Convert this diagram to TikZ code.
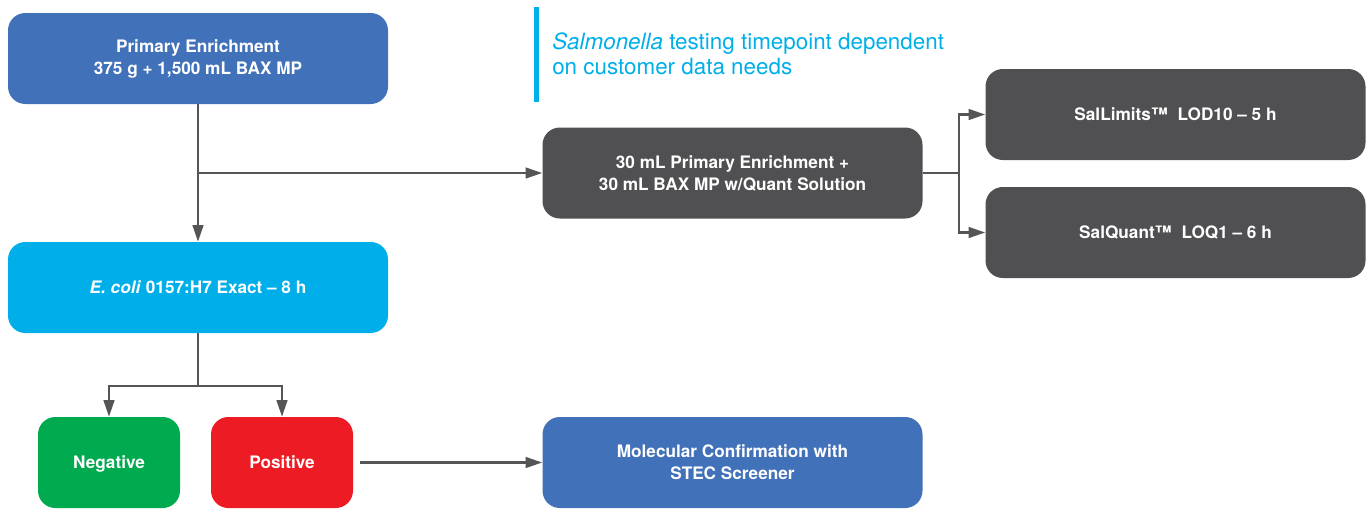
\documentclass[tikz,border=0pt]{standalone}
\usepackage{fontspec}
\setmainfont{TeX Gyre Heros}
\usetikzlibrary{arrows.meta, positioning}
\definecolor{bxblue}{RGB}{65, 113, 185}
\definecolor{bxdark}{RGB}{80, 80, 82}
\definecolor{bxcyan}{RGB}{0, 174, 234}
\definecolor{bxgreen}{RGB}{0, 170, 79}
\definecolor{bxred}{RGB}{237, 28, 36}
\definecolor{lngray}{RGB}{85, 85, 87}

\begin{document}
\begin{tikzpicture}[x=0.75pt, y=-0.75pt,
        box/.style={rounded corners=13pt, text=white, align=center, minimum width=285pt, minimum height=68.25pt,
          font=\fontsize{12.9}{16.5}\selectfont\bfseries},
        small/.style={box, minimum width=106.5pt, text depth=0pt},
        arr/.style={-{Triangle[length=12.5pt, width=8pt]}, line width=1.8pt, lngray},
        note/.style={text=bxcyan, align=left, anchor=west, inner sep=0pt, font=\fontsize{16.8}{18.75}\selectfont}
      ]
        \useasboundingbox (0,0) rectangle (1366,508);
        \node[box, fill=bxblue] (pe) at (198,58.5) {Primary Enrichment\\375 g + 1,500 mL BAX MP};
        \node[box, fill=bxdark] (qs) at (732.5,173) {30 mL Primary Enrichment +\\30 mL BAX MP w/Quant Solution};
        \node[box, fill=bxdark] (sl) at (1175.5,114.5) {SalLimits™\ \ LOD10 – 5 h};
        \node[box, fill=bxdark] (sq) at (1175.5,232.5) {SalQuant™\ \ LOQ1 – 6 h};
        \node[box, fill=bxcyan] (ec) at (198,287.5) {\textit{E. coli} 0157:H7 Exact – 8 h};
        \node[small, fill=bxgreen] (neg) at (109,462.5) {Negative};
        \node[small, fill=bxred] (pos) at (282,462.5) {Positive};
        \node[box, fill=bxblue] (mc) at (732.5,462.5) {Molecular Confirmation with\\STEC Screener};
        % Salmonella megjegyzes
        \node[note] (nt) at (552,54) {\textit{Salmonella} testing timepoint dependent\\on customer data needs};
        \fill[bxcyan] (534,7) rectangle (539,102);
        \draw[arr] (pe) -- (ec);
        \draw[arr] (pe.south |- qs.west) -- (qs.west);
        \draw[arr] (qs.east) -- ++(36,0) |- (sl.west);
        \draw[arr] (qs.east) -- ++(36,0) |- (sq.west);
        \draw[arr] (ec.south) -- ++(0,53) -| (neg.north);
        \draw[arr] (ec.south) -- ++(0,53) -| (pos.north);
        \draw[arr, shorten <=5.25pt] (pos) -- (mc);
      \end{tikzpicture}
\end{document}
